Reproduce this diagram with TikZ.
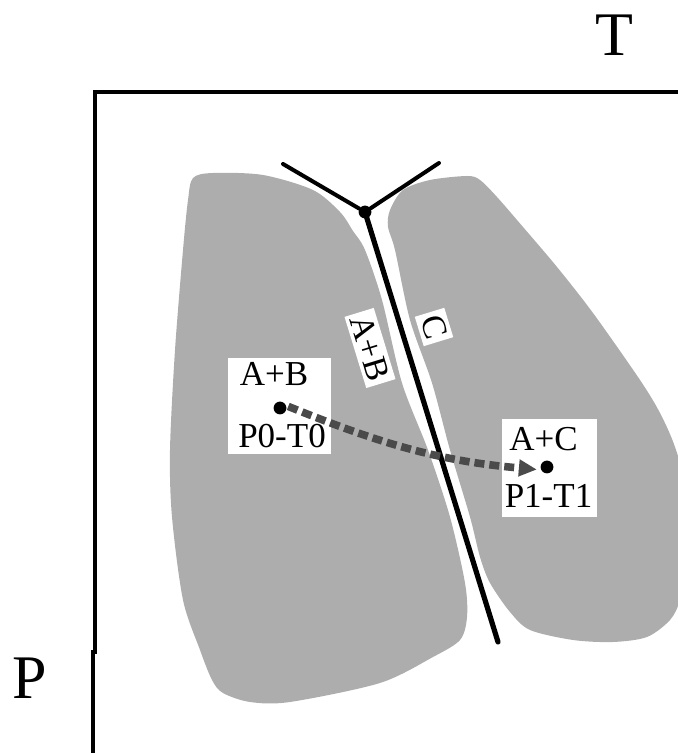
\documentclass[tikz,border=0pt]{standalone}
\usepackage{fontspec}
\setmainfont{Liberation Serif}
\usepackage{tikz}
\usetikzlibrary{arrows.meta,positioning}
\definecolor{Region}{HTML}{ADADAD}
\definecolor{Move}{HTML}{4A4A4A}
\tikzset{
  region/.style={fill=Region,draw=none},
  phaseline/.style={line width=2.6pt,line cap=round},
  branch/.style={line width=2pt,line cap=round},
  frame/.style={line width=2.4pt},
  tag/.style={fill=white,inner sep=2pt,font=\fontsize{17}{20}\selectfont},
  lbl/.style={inner sep=0pt,font=\fontsize{17.5}{21}\selectfont},
  whitebox/.style={fill=white,inner sep=0pt},
  statept/.style={circle,fill=black,inner sep=0pt,minimum size=6.4pt},
  axisname/.style={inner sep=0pt,font=\fontsize{31}{36}\selectfont},
  movearrow/.style={-{Triangle[length=9pt,width=8pt]},line width=3.8pt,
    dash pattern=on 5pt off 2.5pt,color=Move}
}
\begin{document}
\begin{tikzpicture}[x=0.5pt,y=0.5pt]
  \useasboundingbox (0,0) rectangle (678,753);
  \clip (0,0) rectangle (678,753);
  % axes
  \draw[frame] (690,661) -- (95,661) -- (95,101) -- (93,101) -- (93,-10);
  \node[axisname] (T) at (614,718) {T};
  \node[axisname] (P) at (30,75) {P};
  % stability fields
  \fill[region] plot[smooth cycle,tension=0.5] coordinates {
    (193,575) (213,580) (263,578) (313,563) (340,541) (353,522) (365,503)
    (382,453) (402,370) (428,303) (450,236) (465,170) (467,136) (460,113)
    (433,96) (380,70) (290,51) (250,51) (223,60) (212,73) (200,103)
    (183,153) (172,236) (170,303) (175,403) (183,503) (188,553)};
  \fill[region] plot[smooth cycle,tension=0.5] coordinates {
    (390,543) (403,563) (430,573) (467,577) (480,573) (497,556) (523,526)
    (557,486) (593,440) (640,373) (660,340) (675,306) (686,263) (688,193)
    (680,153) (670,133) (647,116) (613,111) (573,113) (530,123) (510,141)
    (490,170) (480,196) (470,236) (450,303) (432,370) (410,433) (395,503)
    (388,526)};
  % reaction lines
  \node[statept] (J) at (365,541) {};
  \coordinate (bl) at (283,589);
  \coordinate (br) at (439,590);
  \coordinate (be) at (498,111);
  \draw[branch] (J) -- (bl);
  \draw[branch] (J) -- (br);
  \draw[phaseline] (J.center) -- (be);
  \node[tag,rotate=-73] (ab) at (370,405) {A+B};
  \node[tag,rotate=-73] (c) at (434,426) {C};
  % start and end states
  \node[whitebox,minimum width=51.5pt,minimum height=48pt] (box0) at (279.5,347) {};
  \node[whitebox,minimum width=47.5pt,minimum height=49pt] (box1) at (549.5,285) {};
  \node[lbl] (ab0) at (274,379) {A+B};
  \node[lbl] (pt0) at (282,317) {P0-T0};
  \node[lbl] (ac1) at (543.5,314) {A+C};
  \node[lbl] (pt1) at (548.5,257) {P1-T1};
  \node[statept] (s0) at (280,345) {};
  \node[statept] (s1) at (547,286) {};
  \draw[movearrow,shorten <=1pt,shorten >=2pt] (s0.20) to[out=-22,in=175] (s1.205);
\end{tikzpicture}
\end{document}
